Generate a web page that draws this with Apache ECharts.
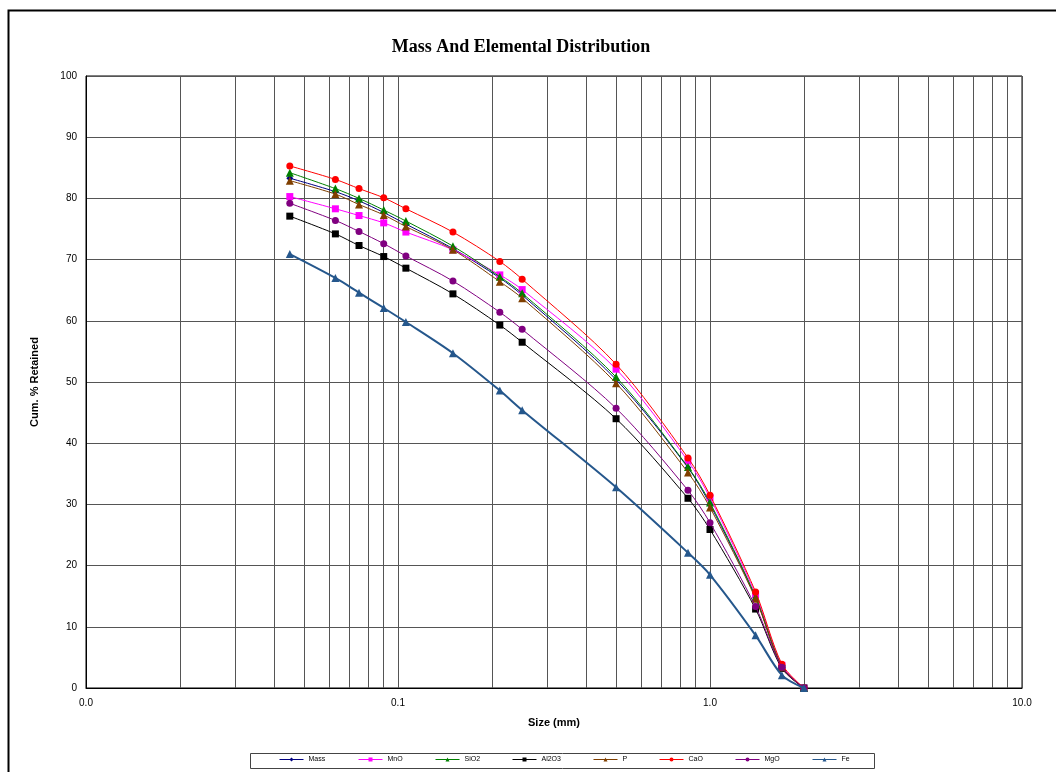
<!DOCTYPE html>
<html>
<head>
<meta charset="utf-8">
<script src="https://cdn.jsdelivr.net/npm/echarts@6/dist/echarts.min.js"></script>
<style>
html,body{margin:0;padding:0;background:#fff;}
#c{width:1056px;height:772px;}
</style>
</head>
<body>
<div id="c"></div>
<script>
const sizes = [0.045, 0.063, 0.075, 0.09, 0.106, 0.15, 0.212, 0.25, 0.5, 0.85, 1.0, 1.4, 1.7, 2.0];
const mass  = [83.3, 81.1, 79.6, 77.7, 75.8, 71.8, 67.0, 64.2, 50.4, 36.0, 30.0, 14.8, 3.4, 0];
const mno   = [80.3, 78.3, 77.2, 76.0, 74.5, 71.6, 67.5, 65.1, 52.1, 37.1, 31.1, 15.3, 3.7, 0];
const sio2  = [84.2, 81.6, 80.0, 78.1, 76.3, 72.2, 67.2, 64.5, 50.8, 36.1, 30.3, 14.9, 3.5, 0];
const al2o3 = [77.1, 74.2, 72.3, 70.5, 68.6, 64.4, 59.3, 56.5, 44.0, 31.0, 25.9, 12.9, 3.2, 0];
const p     = [82.9, 80.7, 79.0, 77.3, 75.4, 71.6, 66.4, 63.7, 49.8, 35.2, 29.5, 14.6, 3.4, 0];
const cao   = [85.3, 83.1, 81.6, 80.1, 78.3, 74.5, 69.7, 66.8, 52.9, 37.6, 31.5, 15.7, 3.9, 0];
const mgo   = [79.2, 76.4, 74.6, 72.6, 70.6, 66.5, 61.4, 58.6, 45.7, 32.3, 27.0, 13.3, 3.4, 0];
const fe    = [70.9, 67.0, 64.6, 62.1, 59.8, 54.7, 48.6, 45.4, 32.8, 22.1, 18.5, 8.6, 2.1, 0];
const minorGrid = [0.02,0.03,0.04,0.05,0.06,0.07,0.08,0.09,0.2,0.3,0.4,0.5,0.6,0.7,0.8,0.9,2,3,4,5,6,7,8,9];

const seriesDefs = [
  {name:'Mass',  data:mass,  color:'#000080', symbol:'diamond',  size:7, width:1},
  {name:'MnO',   data:mno,   color:'#FF00FF', symbol:'rect',     size:7, width:1},
  {name:'SiO2',  data:sio2,  color:'#008000', symbol:'triangle', size:8, width:1},
  {name:'Al2O3', data:al2o3, color:'#000000', symbol:'rect',     size:7, width:1},
  {name:'P',     data:p,     color:'#7F3F00', symbol:'triangle', size:8, width:1},
  {name:'CaO',   data:cao,   color:'#FF0000', symbol:'circle',   size:7, width:1},
  {name:'MgO',   data:mgo,   color:'#800080', symbol:'circle',   size:7, width:1},
  {name:'Fe',    data:fe,    color:'#25578C', symbol:'triangle', size:8, width:2}
];

const legendLefts = [279, 358, 435, 512, 593, 659, 735, 812];

const series = seriesDefs.map((d, i) => {
  const s = {
    name: d.name,
    type: 'line',
    data: sizes.map((x, k) => [x, d.data[k]]),
    smooth: 0.3,
    symbol: d.symbol,
    symbolSize: d.size,
    showAllSymbol: true,
    lineStyle: {color: d.color, width: d.width},
    itemStyle: {color: d.color},
    emphasis: {disabled: true},
    animation: false,
    z: 3 + i
  };
  if (i === 0) {
    s.markLine = {
      silent: true,
      symbol: 'none',
      label: {show: false},
      lineStyle: {color: '#555', width: 1, type: 'solid'},
      data: minorGrid.map(v => ({xAxis: v})),
      z: 1
    };
  }
  return s;
});

const legends = seriesDefs.map((d, i) => ({
  data: [d.name],
  left: legendLefts[i],
  top: 756,
  itemWidth: 24,
  itemHeight: 5,
  lineStyle: {width: 1},
  textStyle: {fontFamily: 'Liberation Sans, Arial', fontSize: 7, color: '#000'},
  selectedMode: false,
  padding: 0,
  itemGap: 2
}));

const chart = echarts.init(document.getElementById('c'), null, {renderer: 'canvas'});
chart.setOption({
  animation: false,
  backgroundColor: '#fff',
  title: {
    text: 'Mass And Elemental Distribution',
    left: 516, top: 33, textAlign: 'center',
    textStyle: {fontFamily: 'Liberation Serif, Times New Roman', fontWeight: 'bold', fontSize: 18, color: '#000'}
  },
  legend: legends,
  grid: {left: 86, top: 76, width: 936, height: 612, show: true, borderColor: '#000', borderWidth: 1, backgroundColor: '#fff'},
  xAxis: {
    type: 'log', logBase: 10, min: 0.01, max: 10,
    name: 'Size (mm)', nameLocation: 'middle', nameGap: 29,
    nameTextStyle: {fontFamily: 'Liberation Sans, Arial', fontWeight: 'bold', fontSize: 11, color: '#000'},
    axisLine: {show: true, lineStyle: {color: '#000', width: 1}},
    axisTick: {show: false},
    axisLabel: {fontFamily: 'Liberation Sans, Arial', fontSize: 10, color: '#000', margin: 10,
      formatter: v => Number(v).toFixed(1)},
    splitLine: {show: true, lineStyle: {color: '#555', width: 1}}
  },
  yAxis: {
    type: 'value', min: 0, max: 100, interval: 10,
    name: 'Cum. % Retained', nameLocation: 'middle', nameGap: 46,
    nameTextStyle: {fontFamily: 'Liberation Sans, Arial', fontWeight: 'bold', fontSize: 11, color: '#000'},
    axisLine: {show: true, lineStyle: {color: '#000', width: 1}},
    axisTick: {show: false},
    axisLabel: {fontFamily: 'Liberation Sans, Arial', fontSize: 10, color: '#000', margin: 9},
    splitLine: {show: true, lineStyle: {color: '#555', width: 1}}
  },
  graphic: [
    {type: 'rect', shape: {x: 8.5, y: 10.5, width: 1080, height: 800}, style: {fill: 'none', stroke: '#000', lineWidth: 2}, z: 100, silent: true},
    {type: 'rect', shape: {x: 250.5, y: 753.5, width: 624, height: 15}, style: {fill: 'none', stroke: '#444', lineWidth: 1}, z: 100, silent: true}
  ],
  series: series
});
</script>
</body>
</html>
